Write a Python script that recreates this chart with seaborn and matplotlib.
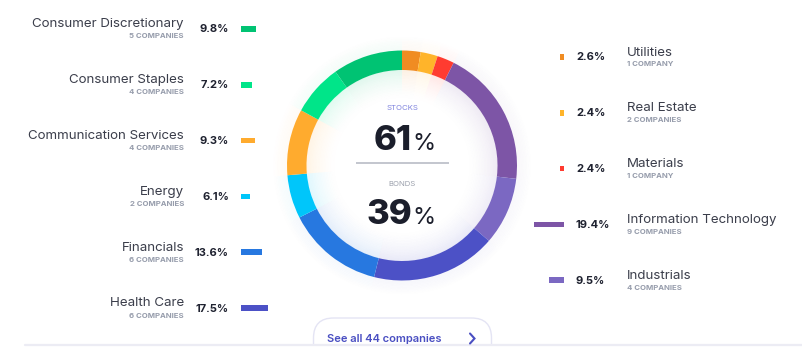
import matplotlib
matplotlib.use("Agg")
import matplotlib.pyplot as plt
import seaborn as sns
import pandas as pd
from matplotlib.patches import FancyBboxPatch, Rectangle

# ---------------- data ----------------
left_sectors = ["Consumer Discretionary", "Consumer Staples", "Communication Services",
                "Energy", "Financials", "Health Care"]
left_weights = [9.8, 7.2, 9.3, 6.1, 13.6, 17.5]
left_counts = ["5 COMPANIES", "4 COMPANIES", "4 COMPANIES", "2 COMPANIES",
               "6 COMPANIES", "6 COMPANIES"]
left_colors = ["#00C373", "#00E589", "#FFAB2E", "#00C6FA", "#2778E0", "#4C51C6"]

right_sectors = ["Utilities", "Real Estate", "Materials", "Information Technology", "Industrials"]
right_weights = [2.6, 2.4, 2.4, 19.4, 9.5]
right_counts = ["1 COMPANY", "2 COMPANIES", "1 COMPANY", "9 COMPANIES", "4 COMPANIES"]
right_colors = ["#F08C22", "#FFB42A", "#FF3B30", "#7D55A6", "#7B68C2"]

stocks_pct = 61
bonds_pct = 39
total_companies = 44

# ring order, clockwise from 12 o'clock
ring_sectors = right_sectors + left_sectors[::-1]
ring_weights = right_weights + left_weights[::-1]
ring_colors = right_colors + left_colors[::-1]

# ---------------- style ----------------
sns.set_theme(style="white")
plt.rcParams['font.family'] = ['Inter', 'DejaVu Sans']

W, H = 803, 357
fig = plt.figure(figsize=(W / 100, H / 100), dpi=100, facecolor="white")


def px_axes(x0, y0, x1, y1):
    """axes from pixel box (top-left origin)"""
    return fig.add_axes([x0 / W, 1 - y1 / H, (x1 - x0) / W, (y1 - y0) / H])


# ---------------- donut ----------------
cx, cy, R = 402, 165.5, 115.0
ext = 1.35
ax_d = px_axes(cx - R * ext, cy - R * ext, cx + R * ext, cy + R * ext)
ring_w = 19.5 / R
inner = 1 - ring_w

# soft glow inside and outside the ring
n_glow = 20
for i in range(n_glow):
    step = 1.5 / R
    a = 0.12 * (1 - i / n_glow) ** 1.6
    ax_d.pie(ring_weights, colors=ring_colors, startangle=90, counterclock=False,
             radius=inner - i * step + step * 0.2, wedgeprops=dict(width=step, alpha=a, linewidth=0))
for i in range(10):
    step = 1.4 / R
    a = 0.045 * (1 - i / 10)
    ax_d.pie(ring_weights, colors=ring_colors, startangle=90, counterclock=False,
             radius=1 + (i + 1) * step, wedgeprops=dict(width=step, alpha=a, linewidth=0))

ax_d.pie(ring_weights, colors=ring_colors, startangle=90, counterclock=False,
         radius=1, wedgeprops=dict(width=ring_w, linewidth=0))
ax_d.set_xlim(-ext, ext)
ax_d.set_ylim(-ext, ext)
ax_d.axis("off")

# ---------------- legend bars ----------------
px_per_pct = 1.54
bar_span = 40
row_l0, row_sp = 29.0, 55.8
row_r0 = 57.0

df_l = pd.DataFrame({"sector": left_sectors, "weight": left_weights})
ax_bl = px_axes(241, row_l0 - row_sp / 2, 241 + bar_span, row_l0 + row_sp * 5.5)
sns.barplot(data=df_l, x="weight", y="sector", hue="sector", palette=left_colors,
            orient="h", width=0.1, legend=False, ax=ax_bl, saturation=1, linewidth=0)
ax_bl.set_xlim(0, bar_span / px_per_pct)
ax_bl.set_ylim(5.5, -0.5)
ax_bl.axis("off")

df_r = pd.DataFrame({"sector": right_sectors, "weight": right_weights})
ax_br = px_axes(564 - bar_span, row_r0 - row_sp / 2, 564, row_r0 + row_sp * 4.5)
sns.barplot(data=df_r, x="weight", y="sector", hue="sector", palette=right_colors,
            orient="h", width=0.1, legend=False, ax=ax_br, saturation=1, linewidth=0)
ax_br.set_xlim(bar_span / px_per_pct, 0)
ax_br.set_ylim(4.5, -0.5)
ax_br.axis("off")

# ---------------- text overlay ----------------
ax = fig.add_axes([0, 0, 1, 1])
ax.set_xlim(0, W)
ax.set_ylim(H, 0)
ax.axis("off")

name_c = "#3B3E4B"
sub_c = "#979DAC"
pct_c = "#1F2230"
fs_name, fs_sub, fs_pct = 9.6, 5.6, 8.0

for i, (s, w, c) in enumerate(zip(left_sectors, left_weights, left_counts)):
    y = row_l0 + i * row_sp
    ax.text(184, y - 4.5, s, ha="right", va="center", fontsize=fs_name, color=name_c)
    ax.text(184, y + 7.5, c, ha="right", va="center", fontsize=fs_sub, color=sub_c, fontweight="bold")
    ax.text(229, y + 0.5, f"{w}%", ha="right", va="center", fontsize=fs_pct, color=pct_c, fontweight="bold")

for i, (s, w, c) in enumerate(zip(right_sectors, right_weights, right_counts)):
    y = row_r0 + i * row_sp
    ax.text(627, y - 4.5, s, ha="left", va="center", fontsize=fs_name, color=name_c)
    ax.text(627, y + 7.5, c, ha="left", va="center", fontsize=fs_sub, color=sub_c, fontweight="bold")
    ax.text(576, y + 0.5, f"{w}%", ha="left", va="center", fontsize=fs_pct, color=pct_c, fontweight="bold")

# center
ax.text(cx, 107.5, "STOCKS", ha="center", va="center", fontsize=5.6, color="#7F83DE")
ax.text(cx, 184, "BONDS", ha="center", va="center", fontsize=5.6, color="#9BA0AC")
for val, yb in [(stocks_pct, 150), (bonds_pct, 224)]:
    ax.text(cx + 10, yb, f"{val}", ha="right", va="baseline", fontsize=25,
            fontweight=800, color="#1B1E2B")
    ax.text(cx + 10.5, yb, "%", ha="left", va="baseline", fontsize=17, color="#1B1E2B")
ax.plot([356, 449], [162.5, 162.5], color="#C3C6CE", lw=1.4, solid_capstyle="butt")

# button
btn = FancyBboxPatch((313.5, 318), 178, 60, boxstyle="round,pad=0,rounding_size=20",
                     facecolor="white", edgecolor="#E4E4F4", lw=1.0, zorder=2)
ax.add_patch(btn)
ax.add_patch(Rectangle((0, 345), W, 20, facecolor="white", edgecolor="none", zorder=3))
ax.plot([25, W], [345, 345], color="#ECECF4", lw=1.6, zorder=4)
ax.text(327, 338.5, f"See all {total_companies} companies", ha="left", va="center",
        fontsize=8.0, fontweight="semibold", color="#4A4FC2", zorder=5)
ax.plot([470, 474.5, 470], [333.5, 338.5, 343.5], color="#4A4FC2", lw=1.5, zorder=5,
        solid_capstyle="round", solid_joinstyle="miter")

fig.savefig("out.png", dpi=100, facecolor="white")
